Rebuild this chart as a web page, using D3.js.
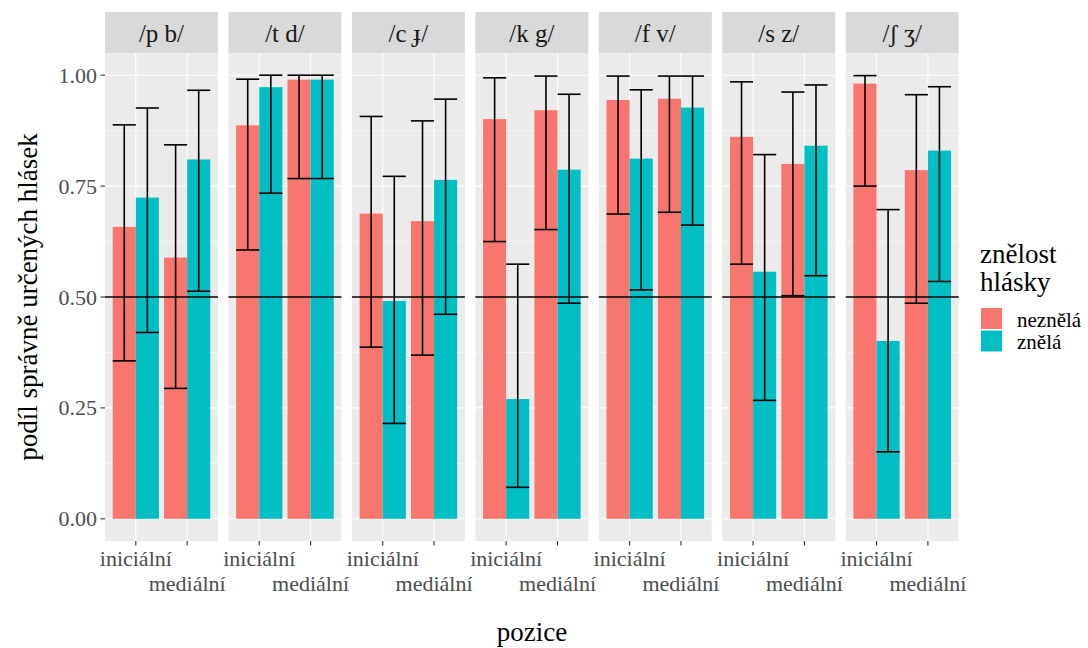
<!DOCTYPE html>
<html><head><meta charset="utf-8">
<script src="https://cdn.jsdelivr.net/npm/d3@7"></script>
<style>
html,body{margin:0;padding:0;background:#fff;}
svg{display:block;font-family:"Liberation Serif","DejaVu Serif","Times New Roman",serif;}
</style></head>
<body><svg id="c" width="1088" height="648"></svg>
<script>
const facets = ["/p b/", "/t d/", "/c ɟ/", "/k g/", "/f v/", "/s z/", "/ʃ ʒ/"];
const positions = ["iniciální", "mediální"];
const voicing = ["neznělá", "znělá"];
const yTicks = [0, 0.25, 0.5, 0.75, 1];
const yTickLabels = ["0.00", "0.25", "0.50", "0.75", "1.00"];

// proportions (per facet)
const neznelaIni = [0.658, 0.887, 0.688, 0.901, 0.944, 0.861, 0.981];
const neznelaMed = [0.589, 0.990, 0.671, 0.921, 0.947, 0.800, 0.786];
const znelaIni   = [0.724, 0.973, 0.491, 0.270, 0.812, 0.557, 0.401];
const znelaMed   = [0.810, 0.990, 0.764, 0.787, 0.927, 0.841, 0.830];
// confidence intervals
const neznelaIniLo = [0.356, 0.606, 0.387, 0.625, 0.687, 0.574, 0.750];
const neznelaIniHi = [0.888, 0.991, 0.907, 0.994, 0.998, 0.985, 0.999];
const neznelaMedLo = [0.294, 0.767, 0.369, 0.652, 0.691, 0.503, 0.486];
const neznelaMedHi = [0.843, 1.000, 0.897, 0.998, 0.998, 0.962, 0.956];
const znelaIniLo   = [0.420, 0.734, 0.215, 0.071, 0.516, 0.267, 0.151];
const znelaIniHi   = [0.926, 1.000, 0.772, 0.574, 0.967, 0.821, 0.697];
const znelaMedLo   = [0.513, 0.767, 0.461, 0.486, 0.662, 0.548, 0.535];
const znelaMedHi   = [0.966, 1.000, 0.946, 0.957, 0.998, 0.978, 0.974];

const colors = ["#F8766D", "#00BFC4"];

const rows = [];
facets.forEach((f, i) => {
  rows.push({f, pos: positions[0], v: voicing[0], y: neznelaIni[i], lo: neznelaIniLo[i], hi: neznelaIniHi[i]});
  rows.push({f, pos: positions[0], v: voicing[1], y: znelaIni[i], lo: znelaIniLo[i], hi: znelaIniHi[i]});
  rows.push({f, pos: positions[1], v: voicing[0], y: neznelaMed[i], lo: neznelaMedLo[i], hi: neznelaMedHi[i]});
  rows.push({f, pos: positions[1], v: voicing[1], y: znelaMed[i], lo: znelaMedLo[i], hi: znelaMedHi[i]});
});

const svg = d3.select("#c");
const panelTop = 53, panelBottom = 541, stripTop = 12;
const fx = d3.scaleBand().domain(facets).range([105, 958.7]).paddingInner(0.085).paddingOuter(0);
const y = d3.scaleLinear().domain([-0.05, 1.05]).range([panelBottom, panelTop]);
const col = d3.scaleOrdinal().domain(voicing).range(colors);
const pw = fx.bandwidth();
const xp = d3.scalePoint().domain(positions).range([0, pw]).padding(0.6);
const step = xp.step();
const xd = d3.scaleBand().domain(voicing).range([-0.45 * step, 0.45 * step]);

facets.forEach(f => {
  const g = svg.append("g").attr("transform", `translate(${fx(f)},0)`);
  // strip
  g.append("rect").attr("x", 0).attr("y", stripTop).attr("width", pw).attr("height", panelTop - stripTop).attr("fill", "#D9D9D9");
  g.append("text").attr("x", pw / 2).attr("y", 42).attr("text-anchor", "middle")
    .attr("font-size", 25).attr("fill", "#1A1A1A").text(f);
  // panel bg
  g.append("rect").attr("x", 0).attr("y", panelTop).attr("width", pw).attr("height", panelBottom - panelTop).attr("fill", "#EBEBEB");
  // minor grid
  const minor = [0.125, 0.375, 0.625, 0.875];
  g.selectAll(".mn").data(minor).enter().append("line")
    .attr("x1", 0).attr("x2", pw).attr("y1", d => y(d)).attr("y2", d => y(d))
    .attr("stroke", "#fff").attr("stroke-width", 0.55);
  g.selectAll(".mj").data(yTicks).enter().append("line")
    .attr("x1", 0).attr("x2", pw).attr("y1", d => y(d)).attr("y2", d => y(d))
    .attr("stroke", "#fff").attr("stroke-width", 1.1);
  g.selectAll(".vx").data(positions).enter().append("line")
    .attr("x1", d => xp(d)).attr("x2", d => xp(d)).attr("y1", panelTop).attr("y2", panelBottom)
    .attr("stroke", "#fff").attr("stroke-width", 1.1);
  const data = rows.filter(r => r.f === f);
  // bars
  g.selectAll(".bar").data(data).enter().append("rect")
    .attr("x", d => xp(d.pos) + xd(d.v)).attr("width", xd.bandwidth())
    .attr("y", d => y(d.y)).attr("height", d => y(0) - y(d.y))
    .attr("fill", d => col(d.v));
  // hline 0.5
  g.append("line").attr("x1", 0).attr("x2", pw).attr("y1", y(0.5)).attr("y2", y(0.5))
    .attr("stroke", "#000").attr("stroke-width", 1.6);
  // error bars
  const eb = g.selectAll(".eb").data(data).enter().append("g");
  eb.append("line").attr("x1", d => xp(d.pos) + xd(d.v) + xd.bandwidth() / 2)
    .attr("x2", d => xp(d.pos) + xd(d.v) + xd.bandwidth() / 2)
    .attr("y1", d => y(d.lo)).attr("y2", d => y(d.hi)).attr("stroke", "#000").attr("stroke-width", 1.6);
  eb.append("line").attr("x1", d => xp(d.pos) + xd(d.v)).attr("x2", d => xp(d.pos) + xd(d.v) + xd.bandwidth())
    .attr("y1", d => y(d.lo)).attr("y2", d => y(d.lo)).attr("stroke", "#000").attr("stroke-width", 1.6);
  eb.append("line").attr("x1", d => xp(d.pos) + xd(d.v)).attr("x2", d => xp(d.pos) + xd(d.v) + xd.bandwidth())
    .attr("y1", d => y(d.hi)).attr("y2", d => y(d.hi)).attr("stroke", "#000").attr("stroke-width", 1.6);
  // x axis ticks and labels (dodged)
  g.selectAll(".xt").data(positions).enter().append("line")
    .attr("x1", d => xp(d)).attr("x2", d => xp(d)).attr("y1", panelBottom).attr("y2", panelBottom + 4.5)
    .attr("stroke", "#333").attr("stroke-width", 1.1);
  g.selectAll(".xl").data(positions).enter().append("text")
    .attr("x", d => xp(d)).attr("y", (d, i) => i === 0 ? 566 : 591)
    .attr("text-anchor", "middle").attr("font-size", 22).attr("fill", "#4D4D4D").text(d => d);
});

// y axis
const ya = svg.append("g");
yTicks.forEach((t, i) => {
  ya.append("line").attr("x1", 100.5).attr("x2", 105).attr("y1", y(t)).attr("y2", y(t))
    .attr("stroke", "#333").attr("stroke-width", 1.1);
  ya.append("text").attr("x", 97).attr("y", y(t) + 7.5).attr("text-anchor", "end")
    .attr("font-size", 22).attr("fill", "#4D4D4D").text(yTickLabels[i]);
});

// axis titles
svg.append("text").attr("x", 532).attr("y", 641).attr("text-anchor", "middle")
  .attr("font-size", 27).attr("fill", "#000").text("pozice");
svg.append("text").attr("transform", `translate(37,${(panelTop + panelBottom) / 2}) rotate(-90)`)
  .attr("text-anchor", "middle").attr("font-size", 27).attr("fill", "#000").text("podíl správně určených hlásek");

// legend
const lg = svg.append("g");
lg.append("text").attr("x", 980).attr("y", 263).attr("font-size", 27).attr("fill", "#000").text("znělost");
lg.append("text").attr("x", 980).attr("y", 291).attr("font-size", 27).attr("fill", "#000").text("hlásky");
voicing.forEach((v, i) => {
  lg.append("rect").attr("x", 981).attr("y", 308 + i * 22.5).attr("width", 21).attr("height", 21)
    .attr("fill", col(v));
  lg.append("text").attr("x", 1017).attr("y", 326.5 + i * 22.5).attr("font-size", 21).attr("fill", "#000").text(v);
});
</script></body></html>
